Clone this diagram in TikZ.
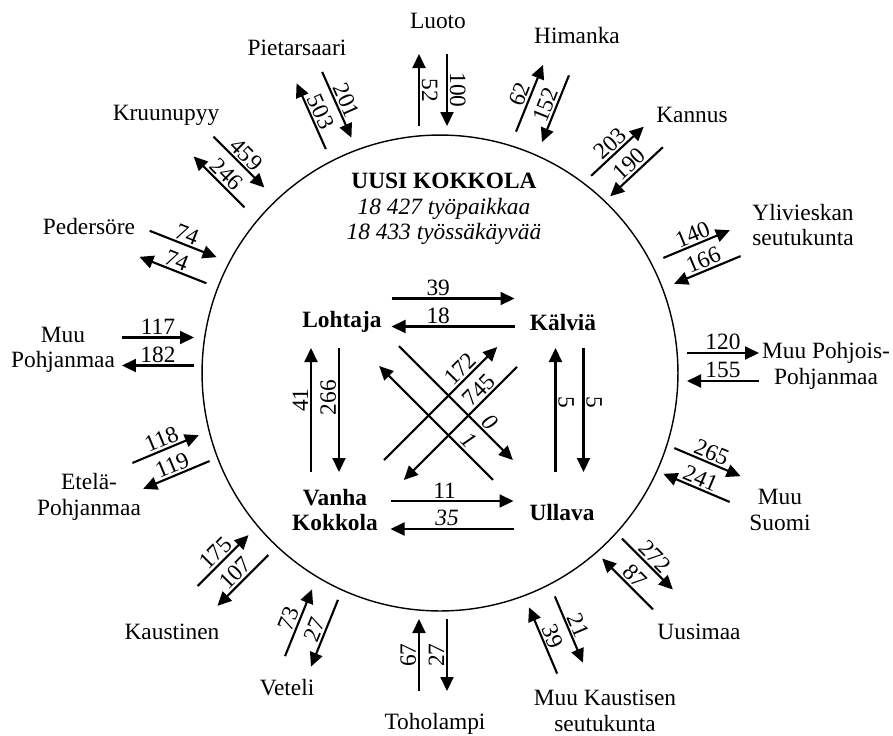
\documentclass[tikz,border=0pt]{standalone}
\usepackage{fontspec}
\setmainfont{Liberation Serif}
\usetikzlibrary{arrows.meta}

\begin{document}
\begin{tikzpicture}[x=0.02cm, y=-0.02cm,
    font=\fontsize{13.3}{14.5}\selectfont,
    flow/.style={-{Triangle[length=0.28cm,width=0.26cm]}, line width=1.2pt},
    num/.style={anchor=south, inner sep=1pt},
    place/.style={align=center}]
  \useasboundingbox (0,0) rectangle (893,735);

  \node[draw, circle, line width=0.8pt, minimum size=9.52cm] (kokkola) at (440,373) {};
  \node[place] (uusi) at (444,209) {\textbf{UUSI KOKKOLA}\\ \textit{18 427 työpaikkaa}\\ \textit{18 433 työssäkäyvää}};

  \node (lohtaja) at (342,322) {\textbf{Lohtaja}};
  \node (kalvia) at (563,322) {\textbf{Kälviä}};
  \node[place] (vanha) at (335,510) {\textbf{Vanha}\\ \textbf{Kokkola}};
  \node (ullava) at (562,512) {\textbf{Ullava}};

  \node (luoto) at (438,21) {Luoto};
  \node (himanka) at (577,35) {Himanka};
  \node (kannus) at (692,115) {Kannus};
  \node[place] (ylivieska) at (803,225) {Ylivieskan\\seutukunta};
  \node[place] (pohjois) at (826,366) {Muu Pohjois-\\Pohjanmaa};
  \node[place] (suomi) at (780,510) {Muu\\Suomi};
  \node (uusimaa) at (699,632) {Uusimaa};
  \node[place] (kaustisen) at (605,711) {Muu Kaustisen\\seutukunta};
  \node (toholampi) at (435,724) {Toholampi};
  \node (veteli) at (287,688) {Veteli};
  \node (kaustinen) at (172,632) {Kaustinen};
  \node[place] (etela) at (89,497) {Etelä-\\Pohjanmaa};
  \node[place] (pohjanmaa) at (63,350) {Muu\\Pohjanmaa};
  \node (pedersore) at (89,226) {Pedersöre};
  \node (kruunupyy) at (166,115) {Kruunupyy};
  \node (pietarsaari) at (297,48) {Pietarsaari};

  \foreach \nm/\cx/\cy/\ang/\len/\ta/\pa/\tb/\pb in {
      luoto/433/90/-90/72/100/.5/52/.5,
      himanka/542.5/103.5/68/72/62/.5/152/.5,
      kannus/627/161.5/43/72/203/.5/190/.5,
      ylivieska/702/257/22.6/72/140/.5/166/.5,
      pohjois/723/367/0/72/120/.5/155/.5,
      suomi/702/475/-23/72/265/.5/241/.5,
      uusimaa/637.5/574/-45/72/272/.5/87/.5,
      kaustisen/556/635/-67/72/21/.5/39/.5,
      toholampi/433/655/90/72/67/.5/27/.5,
      veteli/311.5/628/68/72/73/.5/27/.5,
      kaustinen/233/570.5/45/72/175/.5/107/.5,
      etela/171/462/22.7/72/118/.5/119/.5,
      pohjanmaa/158/351.5/0/72/117/.5/182/.5,
      pedersore/178/257/-21.5/72/74/.5/74/.5,
      kruunupyy/229/172/-45/72/459/.5/246/.5,
      pietarsaari/324/110.5/-66/72/201/.5/503/.5,
      lohkal/453/312.5/0/123/39/.38/18/.62,
      vanull/452/515/0/123/11/.44/{\textit{35}}/.54,
      lohvan/325/410/90/124/41/.58/266/.40,
      kalull/569.5/410/-90/124/5/.44/5/.56,
      vankal/450.5/413.5/45/160/172/.74/745/.27,
      lohull/446/413/-45/161/{\textit{0}}/.73/{\textit{1}}/.28}
  {
    \begin{scope}[shift={(\cx,\cy)}, rotate=\ang]
      \coordinate (\nm-1) at (-\len/2,-14);
      \coordinate (\nm-2) at (\len/2,-14);
      \coordinate (\nm-3) at (\len/2,14);
      \coordinate (\nm-4) at (-\len/2,14);
      \draw[flow] (\nm-1) -- node[num, rotate=\ang, pos=\pa] {\ta} (\nm-2);
      \draw[flow] (\nm-3) -- node[num, rotate=\ang, pos=\pb] {\tb} (\nm-4);
    \end{scope}
  }
\end{tikzpicture}
\end{document}
